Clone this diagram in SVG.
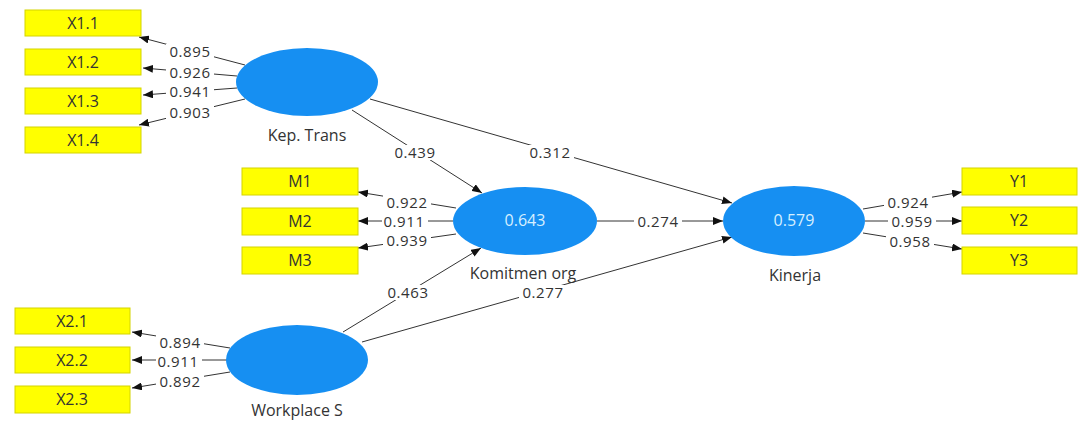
<svg xmlns="http://www.w3.org/2000/svg" width="1080" height="421" viewBox="0 0 1080 421">
<defs>
<marker id="ah" viewBox="0 0 10 8" refX="10" refY="4" markerWidth="10" markerHeight="8" markerUnits="userSpaceOnUse" orient="auto">
<path d="M0,0 L10,4 L0,8 Z" fill="#111"/>
</marker>
<style>
.box{fill:#ffff00;stroke:#d4d400;stroke-width:1}
.lv{fill:#168ff2}
.bt{font-family:"Open Sans","Noto Sans",sans-serif;font-size:16px;fill:#333;text-anchor:middle;dominant-baseline:central}
.nl{font-family:"Open Sans","Noto Sans",sans-serif;font-size:16px;fill:#333;text-anchor:middle;dominant-baseline:central}
.r2{font-family:"Open Sans","Noto Sans",sans-serif;font-size:16px;fill:#d6f0ff;text-anchor:middle;dominant-baseline:central}
.el{font-family:"Open Sans","Noto Sans",sans-serif;font-size:15px;letter-spacing:0.6px;fill:#333;text-anchor:middle;dominant-baseline:central}
.bg{fill:#fff}
.c{stroke:#333;stroke-width:1;fill:none;marker-end:url(#ah)}
</style>
</defs>
<rect width="1080" height="421" fill="#fff"/>
<g id="connectors">
<line class="c" x1="245" y1="65" x2="139" y2="37"/>
<line class="c" x1="237" y1="76" x2="143" y2="68"/>
<line class="c" x1="237" y1="88" x2="143" y2="95"/>
<line class="c" x1="245" y1="99" x2="139" y2="125"/>
<line class="c" x1="456" y1="208" x2="358" y2="192"/>
<line class="c" x1="453" y1="221" x2="358" y2="221"/>
<line class="c" x1="456" y1="234" x2="358" y2="248"/>
<line class="c" x1="230" y1="348" x2="132" y2="332"/>
<line class="c" x1="227" y1="360" x2="132" y2="360"/>
<line class="c" x1="230" y1="372" x2="132" y2="388"/>
<line class="c" x1="863" y1="209" x2="962" y2="192"/>
<line class="c" x1="865" y1="221" x2="962" y2="221"/>
<line class="c" x1="863" y1="233" x2="962" y2="249"/>
<line class="c" x1="597" y1="221" x2="723" y2="221"/>
<line class="c" x1="370" y1="99" x2="732" y2="203"/>
<line class="c" x1="352" y1="110" x2="482" y2="193"/>
<line class="c" x1="343" y1="332" x2="481" y2="248"/>
<line class="c" x1="362" y1="342" x2="732" y2="237"/>
<rect class="bg" x="166" y="44" width="48" height="15"/><text class="el" x="190" y="51">0.895</text>
<rect class="bg" x="166" y="65" width="48" height="15"/><text class="el" x="190" y="72">0.926</text>
<rect class="bg" x="166" y="84" width="48" height="15"/><text class="el" x="190" y="91">0.941</text>
<rect class="bg" x="166" y="105" width="48" height="15"/><text class="el" x="190" y="112">0.903</text>
<rect class="bg" x="383" y="195" width="48" height="15"/><text class="el" x="407" y="202">0.922</text>
<rect class="bg" x="382" y="214" width="46" height="15"/><text class="el" x="404" y="221">0.911</text>
<rect class="bg" x="383" y="233" width="48" height="15"/><text class="el" x="407" y="240">0.939</text>
<rect class="bg" x="156" y="335" width="48" height="15"/><text class="el" x="180" y="342">0.894</text>
<rect class="bg" x="156" y="354" width="46" height="15"/><text class="el" x="178" y="361">0.911</text>
<rect class="bg" x="156" y="374" width="48" height="15"/><text class="el" x="180" y="381">0.892</text>
<rect class="bg" x="884" y="195" width="48" height="15"/><text class="el" x="908" y="202">0.924</text>
<rect class="bg" x="888" y="214" width="48" height="15"/><text class="el" x="912" y="221">0.959</text>
<rect class="bg" x="886" y="234" width="48" height="15"/><text class="el" x="910" y="241">0.958</text>
<rect class="bg" x="634" y="214" width="48" height="15"/><text class="el" x="658" y="221">0.274</text>
<rect class="bg" x="526" y="145" width="48" height="15"/><text class="el" x="550" y="152">0.312</text>
<rect class="bg" x="391" y="145" width="48" height="15"/><text class="el" x="415" y="152">0.439</text>
<rect class="bg" x="384" y="285" width="48" height="15"/><text class="el" x="408" y="292">0.463</text>
<rect class="bg" x="519" y="285" width="48" height="15"/><text class="el" x="543" y="292">0.277</text>
</g>
<g id="X1.1"><rect class="box" x="25" y="10" width="116" height="26"/><text class="bt" x="83" y="23">X1.1</text></g>
<g id="X1.2"><rect class="box" x="25" y="49" width="116" height="26"/><text class="bt" x="83" y="62">X1.2</text></g>
<g id="X1.3"><rect class="box" x="25" y="88" width="116" height="26"/><text class="bt" x="83" y="101">X1.3</text></g>
<g id="X1.4"><rect class="box" x="25" y="127" width="116" height="26"/><text class="bt" x="83" y="140">X1.4</text></g>
<g id="M1"><rect class="box" x="242" y="168" width="116" height="27"/><text class="bt" x="300" y="181">M1</text></g>
<g id="M2"><rect class="box" x="242" y="208" width="116" height="27"/><text class="bt" x="300" y="221">M2</text></g>
<g id="M3"><rect class="box" x="242" y="247" width="116" height="27"/><text class="bt" x="300" y="260">M3</text></g>
<g id="X2.1"><rect class="box" x="15" y="308" width="115" height="26"/><text class="bt" x="72" y="321">X2.1</text></g>
<g id="X2.2"><rect class="box" x="15" y="347" width="115" height="26"/><text class="bt" x="72" y="360">X2.2</text></g>
<g id="X2.3"><rect class="box" x="15" y="386" width="115" height="27"/><text class="bt" x="72" y="399">X2.3</text></g>
<g id="Y1"><rect class="box" x="962" y="168" width="115" height="27"/><text class="bt" x="1019" y="181">Y1</text></g>
<g id="Y2"><rect class="box" x="962" y="207" width="115" height="27"/><text class="bt" x="1019" y="220">Y2</text></g>
<g id="Y3"><rect class="box" x="962" y="247" width="115" height="27"/><text class="bt" x="1019" y="260">Y3</text></g>
<g id="KepTrans"><ellipse class="lv" cx="307" cy="82" rx="71" ry="34"/><text class="nl" x="307" y="135">Kep. Trans</text></g>
<g id="KomitmenOrg"><ellipse class="lv" cx="525" cy="221" rx="72" ry="34"/><text class="r2" x="525" y="220">0.643</text><text class="nl" x="523" y="273">Komitmen org</text></g>
<g id="WorkplaceS"><ellipse class="lv" cx="297" cy="360" rx="71" ry="35"/><text class="nl" x="297" y="410">Workplace S</text></g>
<g id="Kinerja"><ellipse class="lv" cx="794" cy="221" rx="71" ry="35"/><text class="r2" x="794" y="220">0.579</text><text class="nl" x="795" y="275">Kinerja</text></g>
</svg>
